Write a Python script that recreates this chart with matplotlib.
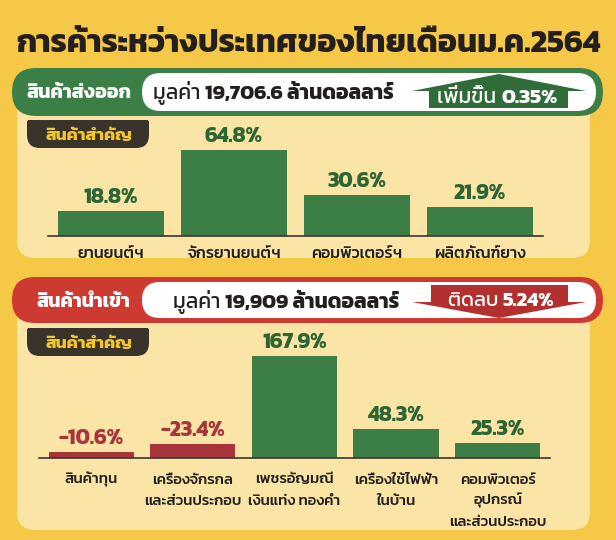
import matplotlib
matplotlib.use("Agg")
import matplotlib.pyplot as plt
from matplotlib.patches import FancyBboxPatch, Polygon

# Thai headline font, with a fallback for anything it lacks
plt.rcParams['font.family'] = ['Kanit', 'DejaVu Sans']

title = "การค้าระหว่างประเทศของไทยเดือนม.ค.2564"
tag_text = "สินค้าสำคัญ"

# exports, January 2021
export_label = "สินค้าส่งออก"
export_value = "19,706.6"
export_change = "0.35%"
export_goods = ["ยานยนต์ฯ", "จักรยานยนต์ฯ", "คอมพิวเตอร์ฯ", "ผลิตภัณฑ์ยาง"]
export_growth = [18.8, 64.8, 30.6, 21.9]

# imports, January 2021
import_label = "สินค้านำเข้า"
import_value = "19,909"
import_change = "5.24%"
import_goods = ["สินค้าทุน", "เครื่องจักรกล\nและส่วนประกอบ", "เพชรอัญมณี\nเงินแท่ง ทองคำ",
                "เครื่องใช้ไฟฟ้า\nในบ้าน", "คอมพิวเตอร์\nอุปกรณ์\nและส่วนประกอบ"]
import_growth = [-10.6, -23.4, 167.9, 48.3, 25.3]

BG = '#F6C847'
CREAM = '#FBE5A6'
GREEN = '#3C7F46'
GREEN_DARK = '#2F6C39'
GREEN_TXT = '#2E6535'
RED = '#CC3A32'
RED_DARK = '#B2302D'
RED_BAR = '#A6363A'
TAG = '#3A332C'
TAG_TXT = '#F5C52C'
INK = '#231F1E'

W, H = 616, 540
fig = plt.figure(figsize=(W / 100, H / 100), dpi=100, facecolor=BG)
renderer = fig.canvas.get_renderer()

# pixel-unit axes (y down): shapes underneath, text on top of everything
bg = fig.add_axes([0, 0, 1, 1], zorder=0)
top = fig.add_axes([0, 0, 1, 1], zorder=10)
for a in (bg, top):
    a.set_xlim(0, W)
    a.set_ylim(H, 0)
    a.axis('off')
top.patch.set_visible(False)


def rbox(x0, y0, x1, y1, r, color, z=1):
    bg.add_patch(FancyBboxPatch((x0, y0), x1 - x0, y1 - y0,
                                boxstyle=f"round,pad=0,rounding_size={r}",
                                facecolor=color, edgecolor='none', zorder=z))


def run_text(x, y, parts, ha='left', **kw):
    # pieces of text on one baseline, each with its own weight
    texts = []
    for s, weight in parts:
        t = top.text(x, y, s, va='baseline', ha='left', fontweight=weight, **kw)
        texts.append(t)
        x += t.get_window_extent(renderer).width
    if ha == 'center':
        shift = (x - texts[0].get_position()[0]) / 2
        for t in texts:
            px, py = t.get_position()
            t.set_position((px - shift, py))
    return texts


top.text(W / 2, 52, title, ha='center', va='baseline', fontsize=23,
         fontweight='bold', color=INK)


def header(y0, y1, label, label_x, color, value, val_x, arrow_color, change_word,
           change, up):
    rbox(12, y0, 603, y1, (y1 - y0) / 2, color, z=3)
    rbox(142, y0 + 5, 596, y1 - 5, (y1 - y0 - 10) / 2, 'white', z=4)
    base = y0 + 30
    top.text(label_x, base, label, ha='center', va='baseline', fontsize=14,
             fontweight='bold', color='white')
    run_text(val_x, base + 1, [("มูลค่า ", 'normal'), (value + " ล้านดอลลาร์", 'bold')],
             fontsize=15, color=INK)
    if up:
        pts = [(429, y1 - 8), (429, y0 + 23), (412, y0 + 23), (499, y0 + 6),
               (586, y0 + 23), (568, y0 + 23), (568, y1 - 8)]
        run_text(497.5, base + 5, [(change_word + " ", 'normal'), (change, 'bold')],
                 ha='center', fontsize=15, color='white')
    else:
        pts = [(431, y0 + 8), (568, y0 + 8), (568, y0 + 25), (586, y0 + 25),
               (499, y1 - 5), (412, y0 + 25), (431, y0 + 25)]
        run_text(501, base - 1, [(change_word + " ", 'normal'), (change, 'bold')],
                 ha='center', fontsize=14.5, color='white')
    bg.add_patch(Polygon(pts, closed=True, facecolor=arrow_color,
                         edgecolor='none', zorder=5))


def tag(y0):
    # flat top, rounded bottom
    rbox(27, y0, 149, y0 + 28, 13, TAG, z=3)
    rbox(27, y0, 149, y0 + 14, 2, TAG, z=3)
    top.text(89, y0 + 20, tag_text, ha='center', va='baseline', fontsize=12.5,
             fontweight='bold', color=TAG_TXT)


# export block
rbox(17, 95, 590, 258, 18, CREAM)
header(68, 116, export_label, 79, GREEN, export_value, 153,
       GREEN_DARK, "เพิ่มขึ้น", export_change, True)
tag(120)

# import block
rbox(17, 305, 590, 530, 18, CREAM)
header(277, 323, import_label, 83.5, RED, import_value, 173,
       RED_DARK, "ติดลบ", import_change, False)
tag(328)

PX = 0.72  # points per pixel at 100 dpi


def bar_panel(rect, goods, growth, ymax, width, first_line, line_step, label_size):
    left, base, w, h = rect
    ax = fig.add_axes([left / W, 1 - base / H, w / W, h / H], zorder=1)
    ax.set_facecolor('none')
    xs = list(range(len(goods)))
    # bar length follows the size of the change, colour its sign
    heights = [abs(v) for v in growth]
    colors = [GREEN if v >= 0 else RED_BAR for v in growth]
    ax.bar(xs, heights, width=width, color=colors, zorder=2)
    pad = (1 - width) / 2
    ax.set_xlim(-0.5 - pad * 0.17, len(goods) - 0.5 + pad * 0.2)
    ax.set_ylim(0, ymax)
    ax.set_xticks([])
    ax.set_yticks([])
    for sp in ['top', 'left', 'right']:
        ax.spines[sp].set_visible(False)
    ax.spines['bottom'].set_color('#3B3530')
    ax.spines['bottom'].set_linewidth(1.2)

    for i, v in enumerate(growth):
        ax.annotate(f"{v:.1f}%", xy=(i, abs(v)), xytext=(0, 8 * PX),
                    textcoords='offset points', ha='center', va='baseline',
                    fontsize=15.5, fontweight='bold', annotation_clip=False,
                    color=GREEN_TXT if v >= 0 else RED_BAR)
        for k, line in enumerate(goods[i].split("\n")):
            ax.annotate(line, xy=(i, 0), xytext=(0, -(first_line + k * line_step) * PX),
                        textcoords='offset points', ha='center', va='baseline',
                        fontsize=label_size, fontweight='medium', color=INK,
                        annotation_clip=False)
    return ax


# rect: left, baseline y, width, height in pixels
bar_panel((48, 236, 495, 110), export_goods, export_growth, 110 / 1.327, 0.863, 22, 21.5, 11.5)
bar_panel((39, 458, 511, 130), import_goods, import_growth, 130 / 0.61, 0.84, 25.5, 21.5, 10.8)

fig.savefig("out.png", dpi=100, facecolor=BG)
